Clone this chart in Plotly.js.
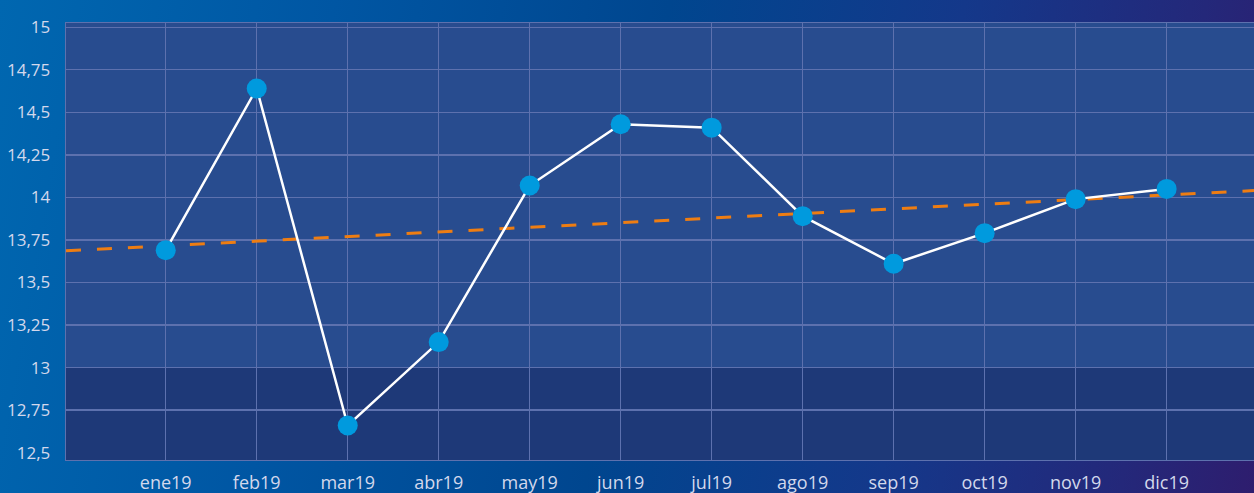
<!DOCTYPE html>
<html>
<head>
<meta charset="utf-8">
<script src="https://cdn.plot.ly/plotly-3.0.1.min.js"></script>
<style>
html,body{margin:0;padding:0;}
#bg{width:1254px;height:493px;
background:linear-gradient(100deg,#0067b0 0%,#0056a3 25%,#00468f 50%,#14388a 72%,#24287a 90%,#2e1d6e 100%);}
#chart{width:1254px;height:493px;}
</style>
</head>
<body>
<div id="bg"><div id="chart"></div></div>
<script>
const months = ["ene19","feb19","mar19","abr19","may19","jun19","jul19","ago19","sep19","oct19","nov19","dic19"];
const values = [13.69,14.64,12.66,13.15,14.07,14.43,14.41,13.89,13.61,13.79,13.99,14.05];
const yTickVals = [12.5,12.75,13,13.25,13.5,13.75,14,14.25,14.5,14.75,15];
const yTickText = ["12,5","12,75","13","13,25","13,5","13,75","14","14,25","14,5","14,75","15"];
const yGridVals = [12.75,13,13.25,13.5,13.75,14,14.25,14.5,14.75,15];

const idx = months.map((m,i)=>i);
const xRange = [-1.096, 11.96];
const yRange = [12.457, 15.025];

// linear trend (least squares) from the data
const n = values.length;
const mx = idx.reduce((a,b)=>a+b,0)/n;
const my = values.reduce((a,b)=>a+b,0)/n;
let sxy=0, sxx=0;
for(let i=0;i<n;i++){sxy+=(idx[i]-mx)*(values[i]-my);sxx+=(idx[i]-mx)**2;}
const slope = sxy/sxx, icpt = my - slope*mx;
const trendX = xRange.slice();
const trendY = trendX.map(x=>icpt+slope*x);

const gridC = '#5d71ae';
const fontC = '#d3d8ec';
const fnt = {family:'"Open Sans", "DejaVu Sans", sans-serif', size:18, color:fontC};
const yfnt = {family:'"Open Sans", "DejaVu Sans", sans-serif', size:17, color:fontC};

const traces = [
 {x:[xRange[0]], y:[yRange[0]], yaxis:'y2', mode:'markers', marker:{opacity:0}, hoverinfo:'skip', showlegend:false},
 {x:trendX, y:trendY, mode:'lines', line:{color:'#ee7d12', width:3, dash:'15px,16px'}, hoverinfo:'skip', showlegend:false},
 {x:idx, y:values, mode:'lines+markers', line:{color:'#ffffff', width:2.5},
  marker:{size:20, color:'#009ade', line:{width:0}}, showlegend:false}
];

const layout = {
 width:1254, height:493,
 margin:{l:66, r:0, t:23, b:33, pad:0},
 paper_bgcolor:'rgba(0,0,0,0)',
 plot_bgcolor:'#1e3978',
 font:fnt,
 showlegend:false,
 xaxis:{range:xRange, tickmode:'array', tickvals:idx, ticktext:months,
   showgrid:true, gridcolor:gridC, gridwidth:1.3, zeroline:false,
   showline:true, linecolor:gridC, linewidth:1.3, mirror:true,
   ticks:'', ticklabelstandoff:6, tickfont:fnt, fixedrange:true},
 yaxis:{range:yRange, tickmode:'array', tickvals:yTickVals, ticktext:yTickText,
   showgrid:false, zeroline:false,
   showline:true, linecolor:gridC, linewidth:1.3,
   ticks:'', ticklabelstandoff:11, tickfont:yfnt, fixedrange:true},
 yaxis2:{range:yRange, overlaying:'y', side:'left', tickmode:'array', tickvals:yGridVals,
   showticklabels:false, showgrid:true, gridcolor:gridC, gridwidth:1.3, zeroline:false,
   showline:false, ticks:'', fixedrange:true},
 shapes:[
  {type:'rect', xref:'paper', yref:'y', x0:0, x1:1, y0:13, y1:yRange[1], fillcolor:'#284c8f', line:{width:0}, layer:'below'}
 ]
};
Plotly.newPlot('chart', traces, layout, {displayModeBar:false, staticPlot:true});
</script>
</body>
</html>
